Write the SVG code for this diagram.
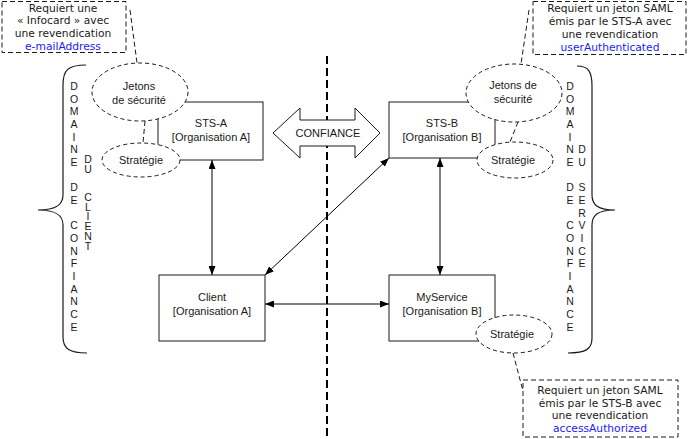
<svg xmlns="http://www.w3.org/2000/svg" width="688" height="439" viewBox="0 0 688 439">
<style>
.box{fill:#fff;stroke:#1a1a1a;stroke-width:1}
.ell{fill:#fff;stroke:#1a1a1a;stroke-width:1;stroke-dasharray:4,3}
.call{fill:#fff;stroke:#1a1a1a;stroke-width:1;stroke-dasharray:5,3}
.lead{fill:none;stroke:#1a1a1a;stroke-width:1;stroke-dasharray:5,3}
.t{font-family:"Liberation Sans",Arial,sans-serif;font-size:11px;fill:#1a1a1a;text-anchor:middle}
.v{font-family:"Liberation Sans",Arial,sans-serif;font-size:10.5px;fill:#1a1a1a;text-anchor:middle}
.vv{font-family:"Liberation Sans",Arial,sans-serif;font-size:10.5px;fill:#1a1a1a;writing-mode:vertical-rl;text-orientation:upright;letter-spacing:-2.2px}
.c{font-family:"DejaVu Sans",Verdana,sans-serif;font-size:10.7px;fill:#1a1a1a;text-anchor:middle}
.b{fill:#1a1aff}
.con{fill:none;stroke:#000;stroke-width:1;marker-start:url(#ah);marker-end:url(#ah)}
.brace{fill:none;stroke:#1a1a1a;stroke-width:1.2}
</style>
<defs>
<marker id="ah" markerWidth="9" markerHeight="7" refX="9" refY="3.5" orient="auto-start-reverse" markerUnits="userSpaceOnUse">
<path d="M0,0 L9,3.5 L0,7 z" fill="#000"/>
</marker>
</defs>
<rect width="688" height="439" fill="#fff"/>

<g id="separator">
<line x1="327" y1="56" x2="327" y2="439" stroke="#000" stroke-width="2" stroke-dasharray="8,4"/>
</g>

<g id="braces">
<path class="brace" d="M86,65 C68,65 63,70 63,85 L63,195 C63,205 56,210 38,210 C56,210 63,215 63,225 L63,337 C63,349 70,353 87,353"/>
<path class="brace" d="M577,66 C588,66 592,71 592,86 L592,195 C592,205 598,210 615,210 C598,210 592,215 592,225 L592,338 C592,349 586,353 568,353"/>
</g>

<g id="domaine-client">
<text class="v"><tspan x="74" y="89.8">D</tspan><tspan x="74" y="102.5">O</tspan><tspan x="74" y="115.2">M</tspan><tspan x="74" y="127.8">A</tspan><tspan x="74" y="140.5">I</tspan><tspan x="74" y="153.2">N</tspan><tspan x="74" y="165.9">E</tspan><tspan x="74" y="191.2">D</tspan><tspan x="74" y="203.9">E</tspan><tspan x="74" y="229.3">C</tspan><tspan x="74" y="242">O</tspan><tspan x="74" y="254.6">N</tspan><tspan x="74" y="267.3">F</tspan><tspan x="74" y="280">I</tspan><tspan x="74" y="292.7">A</tspan><tspan x="74" y="305.4">N</tspan><tspan x="74" y="318">C</tspan><tspan x="74" y="330.7">E</tspan></text>
<text class="vv" x="88" y="153">DU</text>
<text class="vv" x="88" y="190.8">CLIENT</text>
</g>

<g id="domaine-service">
<text class="v"><tspan x="570" y="89.8">D</tspan><tspan x="570" y="102.5">O</tspan><tspan x="570" y="115.2">M</tspan><tspan x="570" y="127.8">A</tspan><tspan x="570" y="140.5">I</tspan><tspan x="570" y="153.2">N</tspan><tspan x="570" y="165.9">E</tspan><tspan x="570" y="191.2">D</tspan><tspan x="570" y="203.9">E</tspan><tspan x="570" y="229.3">C</tspan><tspan x="570" y="242">O</tspan><tspan x="570" y="254.6">N</tspan><tspan x="570" y="267.3">F</tspan><tspan x="570" y="280">I</tspan><tspan x="570" y="292.7">A</tspan><tspan x="570" y="305.4">N</tspan><tspan x="570" y="318">C</tspan><tspan x="570" y="330.7">E</tspan></text>
<text class="v"><tspan x="582" y="153.2">D</tspan><tspan x="582" y="165.9">U</tspan><tspan x="582" y="191.2">S</tspan><tspan x="582" y="203.9">E</tspan><tspan x="582" y="216.6">R</tspan><tspan x="582" y="229.3">V</tspan><tspan x="582" y="242">I</tspan><tspan x="582" y="254.6">C</tspan><tspan x="582" y="267.3">E</tspan></text>
</g>

<g id="confiance">
<polygon points="273,133 300,108 300,120 355,120 355,108 380,133 355,158 355,146 300,146 300,158" fill="#fff" stroke="#1a1a1a" stroke-width="1"/>
<text class="t" x="328" y="137">CONFIANCE</text>
</g>

<g id="connectors">
<line class="con" x1="212" y1="160" x2="212" y2="275"/>
<line class="con" x1="440" y1="158" x2="440" y2="275"/>
<line class="con" x1="265" y1="304" x2="389" y2="304"/>
<line class="con" x1="265" y1="275" x2="389" y2="158"/>
<line class="lead" x1="130" y1="10" x2="137" y2="63"/>
<line class="lead" x1="529" y1="10" x2="521" y2="64"/>
<line class="lead" x1="513" y1="353" x2="523" y2="391"/>
<line class="lead" x1="145" y1="121" x2="143" y2="143"/>
<line class="lead" x1="518" y1="122" x2="510" y2="142"/>
</g>

<g id="sts-a">
<rect class="box" x="158" y="102" width="105" height="58"/>
<text class="t" x="211" y="127">STS-A</text>
<text class="t" x="211" y="141">[Organisation A]</text>
</g>
<g id="sts-b">
<rect class="box" x="389" y="102" width="106" height="56"/>
<text class="t" x="442" y="127">STS-B</text>
<text class="t" x="442" y="141">[Organisation B]</text>
</g>
<g id="client">
<rect class="box" x="159" y="275" width="106" height="66"/>
<text class="t" x="212" y="301">Client</text>
<text class="t" x="212" y="315">[Organisation A]</text>
</g>
<g id="myservice">
<rect class="box" x="389" y="275" width="106" height="66"/>
<text class="t" x="442" y="301">MyService</text>
<text class="t" x="442" y="315">[Organisation B]</text>
</g>

<g id="jetons-a">
<ellipse class="ell" cx="140" cy="92" rx="48" ry="29"/>
<text class="t" x="139" y="90">Jetons</text>
<text class="t" x="139" y="104">de sécurité</text>
</g>
<g id="strategie-a">
<ellipse class="ell" cx="141" cy="160" rx="39" ry="17"/>
<text class="t" x="141" y="164">Stratégie</text>
</g>
<g id="jetons-b">
<ellipse class="ell" cx="514" cy="93" rx="48" ry="29"/>
<text class="t" x="513" y="89">Jetons de</text>
<text class="t" x="513" y="103">sécurité</text>
</g>
<g id="strategie-b">
<ellipse class="ell" cx="515" cy="160" rx="38" ry="18"/>
<text class="t" x="513" y="164">Stratégie</text>
</g>
<g id="strategie-ms">
<ellipse class="ell" cx="514" cy="334" rx="38" ry="19"/>
<text class="t" x="512" y="338">Stratégie</text>
</g>

<g id="callout-client">
<rect class="call" x="2" y="1.5" width="124" height="51"/>
<text class="c" x="63" y="11.5">Requiert une</text>
<text class="c" x="63" y="24.3">« Infocard » avec</text>
<text class="c" x="63" y="37.1">une revendication</text>
<text class="c b" x="63" y="49.9">e-mailAddress</text>
</g>
<g id="callout-stsb">
<rect class="call" x="533" y="1.5" width="153" height="53"/>
<text class="c" x="610" y="12">Requiert un jeton SAML</text>
<text class="c" x="610" y="25">émis par le STS-A avec</text>
<text class="c" x="610" y="38">une revendication</text>
<text class="c b" x="610" y="51">userAuthenticated</text>
</g>
<g id="callout-service">
<rect class="call" x="523" y="380" width="155" height="57"/>
<text class="c" x="600" y="394">Requiert un jeton SAML</text>
<text class="c" x="600" y="406.7">émis par le STS-B avec</text>
<text class="c" x="600" y="419.4">une revendication</text>
<text class="c b" x="600" y="432.1">accessAuthorized</text>
</g>
</svg>
